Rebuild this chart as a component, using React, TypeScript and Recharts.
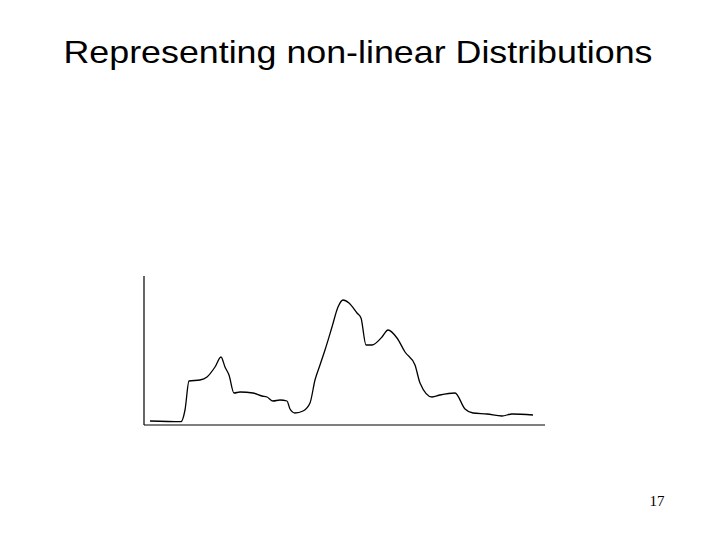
import { Line, LineChart, XAxis, YAxis } from 'recharts';

const TITLE = 'Representing non-linear Distributions';
const PAGE_NUMBER = '17';

// positions along the horizontal axis
const xs = [
  6, 37, 41, 45, 56, 63, 71, 77, 81, 85, 90, 96, 109, 118, 123, 129, 136, 143, 146, 151, 159, 166,
  171, 176, 181, 188, 194, 199, 205, 213, 217, 222, 228, 238, 244, 253, 261, 271, 276, 288, 296,
  311, 321, 329, 343, 358, 368, 389,
];

// curve height at each position
const ys = [
  4, 3.3, 15, 44, 45, 48, 58, 68, 58, 50, 32, 33, 32, 29, 28, 24, 25, 24, 16, 12, 14, 22, 45, 60,
  75, 98, 118, 125, 122, 112, 107, 80, 80, 88, 95, 87, 73, 60, 42, 28, 30, 32, 16, 12, 11, 9, 11, 10,
];

const data = xs.map((x, i) => ({ x, y: ys[i] }));

export default function App() {
  return (
    <div style={{ position: 'absolute', left: 0, top: 0, width: 720, height: 540, background: '#fff' }}>
      <LineChart width={720} height={540} data={data} margin={{ top: 276, right: 175, bottom: 114, left: 143 }}>
        <XAxis
          type="number"
          dataKey="x"
          domain={[0, 401]}
          tick={false}
          tickLine={false}
          height={1}
          axisLine={{ stroke: '#000', strokeWidth: 1.2 }}
        />
        <YAxis
          type="number"
          domain={[0, 149]}
          tick={false}
          tickLine={false}
          width={1}
          axisLine={{ stroke: '#000', strokeWidth: 1.2 }}
        />
        <Line
          type="monotone"
          dataKey="y"
          stroke="#000"
          strokeWidth={1.3}
          dot={false}
          isAnimationActive={false}
        />
      </LineChart>
      <svg width={720} height={540} style={{ position: 'absolute', left: 0, top: 0, pointerEvents: 'none' }}>
        <text
          x={358}
          y={63}
          textAnchor="middle"
          fontFamily="Liberation Sans, Arial, sans-serif"
          fontSize={32}
          textLength={589}
          lengthAdjust="spacingAndGlyphs"
          fill="#000"
        >
          {TITLE}
        </text>
        <text x={657} y={506} textAnchor="middle" fontFamily="Liberation Serif, Times New Roman, serif" fontSize={15} fill="#000">
          {PAGE_NUMBER}
        </text>
      </svg>
    </div>
  );
}
